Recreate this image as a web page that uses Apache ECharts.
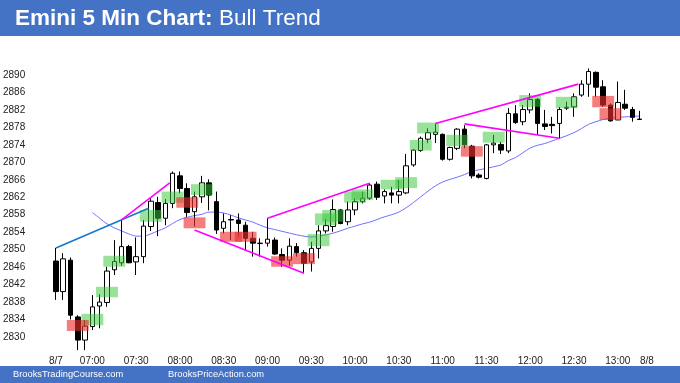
<!DOCTYPE html>
<html><head><meta charset="utf-8">
<script src="https://cdn.jsdelivr.net/npm/echarts@6/dist/echarts.min.js"></script>
<style>html,body{margin:0;padding:0;background:#fff}#c{width:680px;height:383px}</style>
</head><body><div id="c"></div>
<script>
// ---- categories (5-minute bars) ----
const barTimes = ['06:35','06:40','06:45','06:50','06:55',
 '07:00','07:05','07:10','07:15','07:20','07:25','07:30','07:35','07:40','07:45','07:50','07:55',
 '08:00','08:05','08:10','08:15','08:20','08:25','08:30','08:35','08:40','08:45','08:50','08:55',
 '09:00','09:05','09:10','09:15','09:20','09:25','09:30','09:35','09:40','09:45','09:50','09:55',
 '10:00','10:05','10:10','10:15','10:20','10:25','10:30','10:35','10:40','10:45','10:50','10:55',
 '11:00','11:05','11:10','11:15','11:20','11:25','11:30','11:35','11:40','11:45','11:50','11:55',
 '12:00','12:05','12:10','12:15','12:20','12:25','12:30','12:35','12:40','12:45','12:50','12:55',
 '13:00','13:05','13:10','13:15','13:20','13:25','13:30'];
// ---- tick labels ----
const xTickIdx  = [0,5,11,17,23,29,35,41,47,53,59,65,71,77,81];
const xTickText = ['8/7','07:00','07:30','08:00','08:30','09:00','09:30','10:00','10:30','11:00','11:30','12:00','12:30','13:00','8/8'];
const yTickValues = [2830,2834,2838,2842,2846,2850,2854,2858,2862,2866,2870,2874,2878,2882,2886,2890];

// ---- OHLC ----
const openP = [2847.4,2840.4,2847.6,2834.6,2829.3,2832.4,2837.1,2837.9,2845.4,2847.0,
 2850.7,2847.2,2848.4,2855.3,2860.8,2857.2,2860.6,2866.9,2864.0,2858.7,
 2862.1,2865.3,2861.0,2854.9,2856.8,2856.8,2855.6,2852.6,2851.4,2851.5,
 2852.2,2848.9,2847.6,2850.7,2849.3,2847.2,2850.3,2854.3,2855.3,2859.1,
 2856.4,2859.1,2861.0,2861.8,2865.0,2862.3,2863.0,2862.5,2863.0,2869.4,
 2872.7,2875.3,2876.4,2876.4,2870.7,2873.2,2877.6,2873.7,2867.1,2866.3,
 2874.0,2874.1,2872.6,2881.1,2879.3,2882.0,2884.4,2878.8,2878.7,2878.9,
 2882.4,2882.7,2885.4,2887.9,2890.6,2887.3,2883.1,2879.7,2883.3,2882.1,2879.9];
const closeP = [2840.4,2847.9,2835.0,2829.3,2832.5,2836.9,2838.0,2845.1,2847.3,2850.7,
 2847.0,2848.4,2855.4,2861.1,2857.2,2860.6,2867.5,2864.0,2858.5,2862.1,
 2865.3,2862.5,2854.5,2856.4,2856.9,2856.0,2852.6,2851.5,2851.5,2852.4,
 2849.0,2847.6,2850.8,2849.3,2846.9,2850.3,2854.3,2855.5,2859.2,2856.0,
 2859.1,2861.0,2861.8,2864.8,2862.0,2863.3,2862.5,2863.3,2869.2,2872.8,
 2875.5,2876.8,2876.9,2870.7,2873.4,2877.6,2874.0,2866.9,2866.6,2874.0,
 2874.4,2872.8,2881.2,2879.1,2882.1,2884.4,2878.9,2878.2,2878.4,2882.1,
 2882.6,2885.0,2887.9,2890.8,2887.2,2883.1,2879.5,2883.7,2882.4,2880.3,2879.8];
const lowP = [2838.5,2838.5,2834.0,2827.0,2827.0,2831.6,2832.0,2836.9,2844.2,2846.3,
 2846.9,2844.2,2846.9,2854.3,2853.1,2855.6,2859.5,2862.9,2857.5,2855.3,
 2860.7,2859.0,2853.6,2853.7,2852.2,2853.0,2849.9,2848.4,2848.4,2850.7,
 2848.8,2846.1,2846.3,2848.4,2844.6,2845.0,2848.0,2853.7,2854.1,2855.8,
 2855.6,2857.9,2860.6,2861.4,2861.4,2860.6,2860.6,2860.6,2862.7,2869.0,
 2872.4,2874.4,2874.4,2870.4,2870.4,2872.8,2873.2,2866.3,2866.3,2866.1,
 2872.1,2871.9,2872.1,2878.8,2878.5,2881.2,2876.3,2877.4,2876.6,2875.5,
 2882.0,2880.4,2885.0,2885.0,2885.0,2882.7,2879.3,2879.7,2882.0,2879.3,2879.8];
const highP = [2850.4,2849.2,2848.2,2835.0,2833.9,2839.6,2839.8,2846.1,2852.2,2856.8,
 2851.1,2852.8,2856.8,2861.8,2862.1,2861.6,2867.9,2867.9,2865.2,2863.3,
 2866.9,2866.1,2863.3,2858.3,2857.9,2858.3,2856.4,2854.1,2852.6,2857.2,
 2852.8,2850.3,2852.6,2851.5,2849.9,2851.8,2855.6,2857.0,2861.5,2859.3,
 2861.0,2861.8,2863.3,2865.2,2865.6,2863.8,2864.4,2866.0,2871.9,2873.0,
 2875.9,2877.8,2878.9,2876.6,2873.6,2877.8,2878.5,2874.0,2867.5,2874.2,
 2876.3,2874.7,2882.4,2883.1,2883.1,2885.8,2884.7,2882.0,2880.4,2882.7,
 2883.9,2885.8,2888.8,2891.5,2890.8,2888.8,2883.5,2888.5,2886.6,2882.7,2881.8];

// ---- 20-bar EMA ----
const emaP = [null,null,null,null,null,
 2858.5,2857.2,2855.9,2855.0,2854.3,2853.6,2853.1,2853.1,2853.6,2854.3,2855.0,2856.0,2856.9,2857.4,2857.8,
 2858.1,2858.6,2858.6,2858.4,2857.9,2857.3,2856.8,2856.3,2855.6,2855.0,2854.6,2854.2,2853.8,2853.4,2853.1,
 2852.9,2853.1,2853.4,2853.8,2854.3,2854.9,2855.4,2855.9,2856.3,2856.9,2857.5,2858.0,2858.6,2859.6,2860.8,
 2862.1,2863.4,2864.6,2865.5,2866.1,2866.6,2867.2,2867.9,2868.3,2868.6,2869.0,2869.4,2870.4,2871.1,2872.2,
 2873.3,2873.9,2874.3,2874.9,2875.5,2876.1,2876.8,2877.7,2878.7,2879.3,2879.8,2880.1,2880.3,2880.4,2880.5,2880.6];

// ---- highlighted zones: centre bar, low, high ----
const greenCenter = [5,7,8,13,16,20,36,37,38,41,42,46,48,50,51,55,60,65,70];
const greenLow  = [2832.7,2839.1,2846.1,2856.4,2860.75,2862.5,2850.8,2855.6,2856.4,2860.75,2861.4,2863.8,2864.1,2872.7,2876.6,2873.7,2874.5,2882.7,2882.4];
const greenHigh = [2835.3,2841.5,2848.6,2859.1,2863.3,2865.0,2853.6,2858.3,2859.1,2863.3,2863.8,2866.0,2866.6,2875.1,2879.1,2876.3,2877.0,2885.4,2885.0];
const redCenter = [3,18,19,24,26,31,34,57,75,76];
const redLow  = [2831.4,2859.6,2854.9,2851.8,2851.8,2846.1,2846.7,2871.3,2882.6,2879.7];
const redHigh = [2833.9,2862.0,2857.4,2854.1,2854.1,2848.5,2849.2,2873.7,2885.2,2882.4];

// ---- trend lines: [bar, price] endpoints ----
const blueLine = [[0,2850.4],[12.7,2859.5]];
const magentaLines = [
  [[9,2856.8],[15.6,2865.3]],
  [[19,2854.5],[34,2844.6]],
  [[29,2857.2],[43,2865.2]],
  [[52,2878.9],[71.6,2887.9]],
  [[56,2878.8],[69,2875.5]]
];

const FONT = '"Liberation Sans", Arial, sans-serif';
const chart = echarts.init(document.getElementById('c'), null, {renderer:'canvas'});

function zoneSeries(centers, lows, highs, color){
  return {
    type:'custom', xAxisIndex:1, yAxisIndex:0, z:3, silent:true, animation:false,
    data: centers.map((c,i)=>[c, lows[i], highs[i]]),
    renderItem:(params, api)=>{
      const p0 = api.coord([api.value(0)-1.5, api.value(2)]);
      const p1 = api.coord([api.value(0)+1.5, api.value(1)]);
      return {type:'rect', shape:{x:p0[0], y:p0[1], width:p1[0]-p0[0], height:p1[1]-p0[1]}, style:{fill:color}};
    }
  };
}
function lineSeries(pts, color){
  return {type:'line', xAxisIndex:1, yAxisIndex:0, z:4, silent:true, animation:false,
    data:pts, symbol:'none', lineStyle:{color:color, width:1.6}};
}

const series = [
  {type:'line', xAxisIndex:0, data:emaP, symbol:'none', smooth:0.3, z:1, silent:true,
   lineStyle:{color:'#6f6fff', width:1}},
  {type:'candlestick', xAxisIndex:0, data: openP.map((o,i)=>[o, closeP[i], lowP[i], highP[i]]),
   barWidth:5, z:2, silent:true,
   itemStyle:{color:'#ffffff', color0:'#000000', borderColor:'#000000', borderColor0:'#000000', borderWidth:1}},
  zoneSeries(greenCenter, greenLow, greenHigh, 'rgba(60,200,60,0.52)'),
  zoneSeries(redCenter, redLow, redHigh, 'rgba(238,45,45,0.62)'),
  lineSeries(blueLine, '#1878c8')
].concat(magentaLines.map(l=>lineSeries(l, '#ff00ff')));

const tickMap = {};
xTickIdx.forEach((k,i)=>tickMap[k]=xTickText[i]);

chart.setOption({
  animation:false,
  backgroundColor:'#ffffff',
  grid:{left:50.3, width:614.9, top:57.5, height:297, containLabel:false},
  xAxis:[
    {type:'category', data:barTimes, boundaryGap:true,
     axisLine:{show:false}, axisTick:{show:false}, splitLine:{show:false},
     axisLabel:{interval:(idx)=>tickMap[idx]!==undefined, formatter:(v,idx)=>tickMap[idx]||'',
       fontSize:10, color:'#222', fontFamily:FONT, margin:2}},
    {type:'value', min:-0.5, max:83.5, show:false}
  ],
  yAxis:{type:'value', min:2826, max:2894, interval:2, scale:true,
    axisLine:{show:false}, axisTick:{show:false}, splitLine:{show:false},
    axisLabel:{formatter:(v)=>yTickValues.indexOf(Math.round(v))>=0?String(Math.round(v)):'',
      fontSize:10, color:'#222', fontFamily:FONT, margin:27}},
  series:series,
  graphic:[
    {type:'rect', shape:{x:0,y:0,width:680,height:36}, style:{fill:'#4472c4'}, z:10},
    {type:'rect', shape:{x:0,y:366,width:680,height:17}, style:{fill:'#4472c4'}, z:10},
    {type:'text', x:15, y:19.2, z:11, style:{text:'Emini 5 Min Chart:', fill:'#fff', font:'bold 22.5px '+FONT, verticalAlign:'middle'}},
    {type:'text', x:219, y:19.2, z:11, style:{text:'Bull Trend', fill:'#fff', font:'22.5px '+FONT, verticalAlign:'middle'}},
    {type:'text', x:13, y:374.8, z:11, style:{text:'BrooksTradingCourse.com', fill:'#fff', font:'9.3px '+FONT, verticalAlign:'middle'}},
    {type:'text', x:168, y:374.8, z:11, style:{text:'BrooksPriceAction.com', fill:'#fff', font:'9.3px '+FONT, verticalAlign:'middle'}}
  ]
});
</script></body></html>
